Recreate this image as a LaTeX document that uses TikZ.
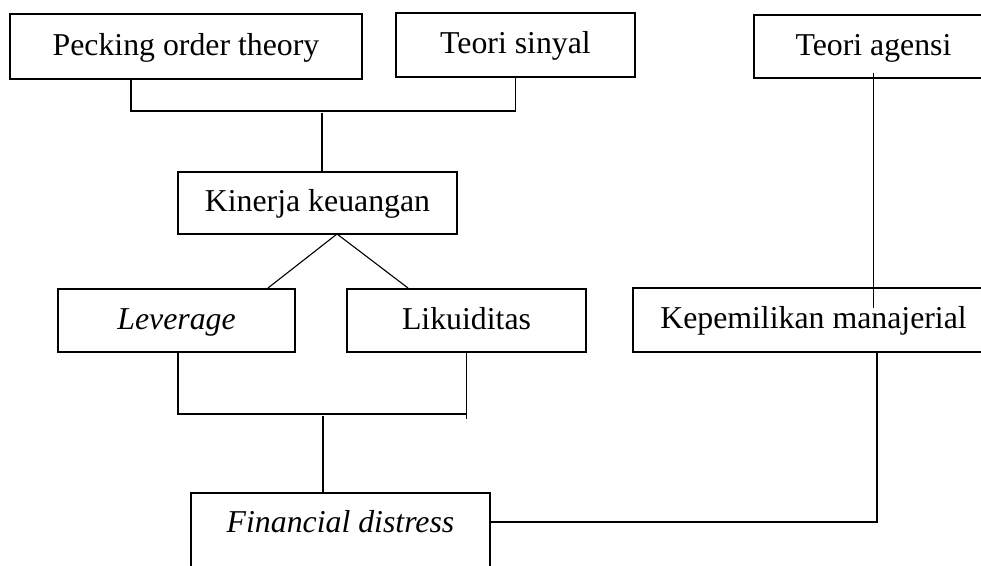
\documentclass[tikz,border=0pt]{standalone}
\usepackage{fontspec}
\setmainfont{Liberation Serif}
\usetikzlibrary{calc}

\begin{document}
\begin{tikzpicture}[x=0.5pt, y=-0.5pt,
  every node/.style={font=\fontsize{15.9}{19}\selectfont},
  blk/.style={rectangle, draw, line width=1pt, inner sep=0pt, align=center,
              text height=11.5pt, text depth=2.5pt},
  ln/.style={line width=0.55pt}
]
  \clip (0,0) rectangle (981,566);
  \node[blk, minimum width=176pt, minimum height=32.5pt] (pot) at (186,46.5) {Pecking order theory};
  \node[blk, minimum width=119.5pt, minimum height=32pt] (ts) at (515.5,45) {Teori sinyal};
  \node[blk, minimum width=119.5pt, minimum height=31.5pt] (ta) at (873.5,46.5) {Teori agensi};
  \node[blk, minimum width=139.5pt, minimum height=31pt] (kk) at (317.5,203) {Kinerja keuangan};
  \node[blk, minimum width=118.5pt, minimum height=31.5pt] (lev) at (176.5,320.5) {\textit{Leverage}};
  \node[blk, minimum width=119.5pt, minimum height=31.5pt] (lik) at (466.5,320.5) {Likuiditas};
  \node[blk, minimum width=180.5pt, minimum height=32pt] (km) at (813.5,320) {Kepemilikan manajerial};
  \node[blk, minimum width=149.5pt, anchor=north, text height=11pt, text depth=50pt, inner ysep=9pt] (fd) at (340.5,492) {\textit{Financial distress}};

  \coordinate (b1) at (131,111);
  \draw[ln] (pot.south -| b1) -- (b1) -| (ts.south);
  \coordinate (j1) at (322,113);
  \draw[ln] (j1) -- (j1 |- kk.north);
  \coordinate (apex) at (337,234);
  \coordinate (dl) at (268,0);
  \coordinate (dr) at (408,0);
  \draw[ln] (lev.north -| dl) -- (apex) -- (lik.north -| dr);
  \coordinate (b2) at (178,414);
  \draw[ln] (lev.south -| b2) -- (b2) -- (b2 -| lik.south);
  \draw[ln] (lik.south) -- ++(0,66);
  \coordinate (j2) at (323,416);
  \draw[ln] (j2) -- (j2 |- fd.north);
  \coordinate (b3) at (877,522);
  \draw[ln] (b3 -| fd.east) -- (b3) -- (b3 |- km.south);
  \draw[ln] ($(ta.south)+(0,-6)$) -- ($(ta.south |- km.north)+(0,21)$);
\end{tikzpicture}
\end{document}
